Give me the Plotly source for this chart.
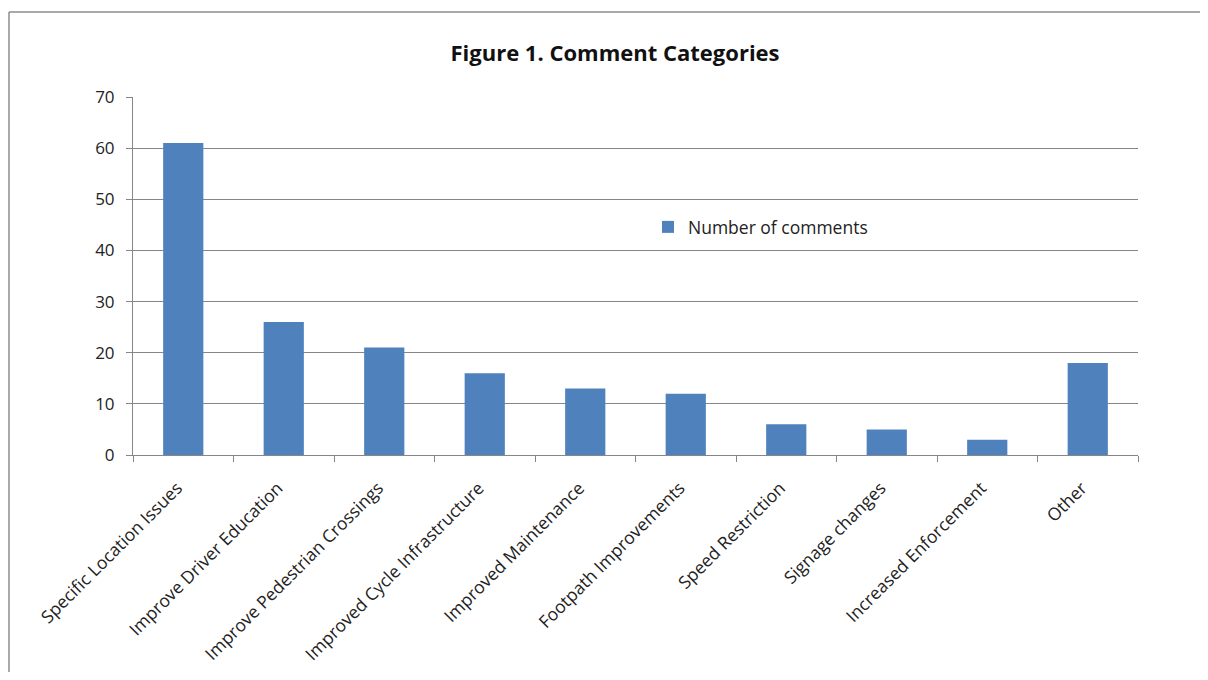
import plotly.graph_objects as go

# chart data
categories = [
    "Specific Location Issues",
    "Improve Driver Education",
    "Improve Pedestrian Crossings",
    "Improved Cycle Infrastructure",
    "Improved Maintenance",
    "Footpath Improvements",
    "Speed Restriction",
    "Signage changes",
    "Increased Enforcement",
    "Other",
]
comments = [61, 26, 21, 16, 13, 12, 6, 5, 3, 18]
series_name = "Number of comments"
y_ticks = [0, 10, 20, 30, 40, 50, 60, 70]

FONT = "Open Sans, Noto Sans, sans-serif"
AXIS_GREY = "#868686"
FRAME_GREY = "#8c8c8c"

# figure sits inside the page's 8px body margin
W, H = 1192, 664
L, R, T, B = 125, 62, 89, 217
pw, ph = W - L - R, H - T - B


def px_x(x):
    # figure pixel -> paper x
    return (x - L) / pw


def px_y(y):
    # figure pixel -> paper y
    return (H - B - y) / ph


fig = go.Figure(go.Bar(
    x=categories,
    y=comments,
    name=series_name,
    marker=dict(color="#4F81BD", line=dict(width=0)),
    showlegend=True,
))

fig.update_layout(
    width=W,
    height=H,
    margin=dict(l=L, r=R, t=T, b=B),
    paper_bgcolor="white",
    plot_bgcolor="white",
    font=dict(family=FONT, size=17, color="#222"),
    title=dict(
        text="<b>Figure 1. Comment Categories</b>",
        x=(615 - 8) / W, xanchor="center",
        y=1 - (53 - 8) / H, yanchor="middle",
        font=dict(size=22, family=FONT, color="#111"),
    ),
    bargap=0.6,
    legend=dict(
        x=px_x(648 - 8), xanchor="left",
        y=px_y(227 - 8), yanchor="middle",
        bgcolor="rgba(0,0,0,0)",
        font=dict(size=17.5, family=FONT, color="#222"),
        itemwidth=30,
    ),
    # outer chart frame: only its top and left edges show in the reference
    shapes=[
        dict(type="line", xref="paper", yref="paper",
             x0=px_x(1), x1=px_x(W + 5), y0=px_y(4), y1=px_y(4),
             line=dict(color=FRAME_GREY, width=1.5)),
        dict(type="line", xref="paper", yref="paper",
             x0=px_x(1), x1=px_x(1), y0=px_y(4), y1=px_y(H + 5),
             line=dict(color=FRAME_GREY, width=1.5)),
    ],
)

fig.update_xaxes(
    type="category",
    automargin=False,
    tickangle=-45,
    tickson="boundaries",
    ticks="outside",
    ticklen=6,
    tickcolor=AXIS_GREY,
    showline=True,
    linecolor=AXIS_GREY,
    linewidth=1,
    showgrid=False,
    ticklabelstandoff=15,
    ticklabelshift=-6,
    tickfont=dict(size=17.5, family=FONT, color="#222"),
)

fig.update_yaxes(
    range=[0, 70],
    automargin=False,
    tickvals=y_ticks,
    ticks="outside",
    ticklen=6,
    tickcolor=AXIS_GREY,
    showline=True,
    linecolor=AXIS_GREY,
    linewidth=1,
    showgrid=True,
    gridcolor=AXIS_GREY,
    gridwidth=1,
    zeroline=False,
    ticklabelstandoff=8,
    tickfont=dict(size=17, family=FONT, color="#222"),
)

fig.write_html("out.html")
